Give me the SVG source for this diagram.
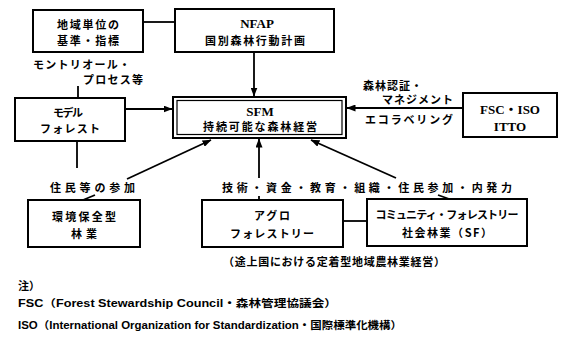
<svg xmlns="http://www.w3.org/2000/svg" width="562" height="337" viewBox="0 0 562 337">
<style>
.box{fill:#fff;stroke:#000;stroke-width:2}
.ln{fill:none;stroke:#000;stroke-width:1.8}
.jp{font-family:"Noto Sans CJK JP",sans-serif;font-weight:bold;font-size:11px;fill:#000}
.sr{font-family:"Liberation Serif","Noto Sans CJK JP",serif;font-weight:bold;font-size:13px;fill:#000}
.nt{font-family:"Liberation Sans","Noto Sans CJK JP",sans-serif;font-weight:bold;font-size:10.5px;fill:#000}
.c{text-anchor:middle}
</style>
<defs>
<marker id="ah" markerWidth="9" markerHeight="7" refX="8.5" refY="3.5" orient="auto" markerUnits="userSpaceOnUse">
<path d="M0,0 L9,3.5 L0,7 Z" fill="#000"/>
</marker>
</defs>
<rect width="562" height="337" fill="#fff"/>
<g id="connectors">
<line class="ln" x1="143" y1="22" x2="175" y2="22"/>
<line class="ln" x1="254" y1="52" x2="254" y2="96" marker-end="url(#ah)"/>
<line class="ln" x1="78" y1="86" x2="78" y2="98"/>
<line class="ln" x1="125" y1="109" x2="172" y2="109" marker-end="url(#ah)"/>
<line class="ln" x1="463" y1="108" x2="347" y2="108" marker-end="url(#ah)"/>
<line class="ln" x1="77" y1="141" x2="77" y2="168"/>
<line class="ln" x1="95" y1="195" x2="83" y2="200"/>
<line class="ln" x1="127" y1="179" x2="211" y2="140" marker-end="url(#ah)"/>
<line class="ln" x1="259" y1="196" x2="259" y2="200"/>
<line class="ln" x1="259" y1="178" x2="259" y2="139" marker-end="url(#ah)"/>
<line class="ln" x1="396" y1="178" x2="311" y2="140" marker-end="url(#ah)"/>
<line class="ln" x1="438" y1="195" x2="452" y2="200"/>
<line class="ln" x1="343" y1="221" x2="367" y2="221"/>
</g>
<g id="n-kijun">
<rect class="box" x="33" y="10" width="110" height="42"/>
<text class="jp c" x="88" y="29" textLength="62" lengthAdjust="spacing">地域単位の</text>
<text class="jp c" x="88" y="45" textLength="62" lengthAdjust="spacing">基準・指標</text>
</g>
<g id="n-nfap">
<rect class="box" x="175" y="9" width="159" height="43"/>
<text class="sr c" x="257" y="28">NFAP</text>
<text class="jp c" x="255" y="45" textLength="100" lengthAdjust="spacing">国別森林行動計画</text>
</g>
<g id="l-montreal">
<text class="jp" x="33" y="69" font-size="10" textLength="97" lengthAdjust="spacing">モントリオール・</text>
<text class="jp" x="83" y="84" font-size="10" textLength="60" lengthAdjust="spacing">プロセス等</text>
</g>
<g id="n-model">
<rect class="box" x="15" y="98" width="110" height="43"/>
<text class="jp c" x="68" y="117" font-size="10" textLength="30" lengthAdjust="spacing">モデル</text>
<text class="jp c" x="70" y="133" font-size="10" textLength="60" lengthAdjust="spacing">フォレスト</text>
</g>
<g id="n-sfm">
<rect class="box" x="173" y="97" width="173" height="41" stroke-width="2.2"/>
<rect x="177" y="100.5" width="165" height="34" fill="none" stroke="#000" stroke-width="1.2"/>
<text class="sr c" x="260" y="116">SFM</text>
<text class="jp c" x="260" y="131" textLength="114" lengthAdjust="spacing">持続可能な森林経営</text>
</g>
<g id="l-cert">
<text class="jp" x="363" y="90" font-size="10" textLength="59" lengthAdjust="spacing">森林認証・</text>
<text class="jp" x="382" y="104" font-size="10" textLength="71" lengthAdjust="spacing">マネジメント</text>
<text class="jp" x="365" y="124" font-size="10" textLength="88" lengthAdjust="spacing">エコラベリング</text>
</g>
<g id="n-fsc">
<rect class="box" x="463" y="93" width="94" height="44"/>
<text class="sr c" x="510" y="114">FSC・ISO</text>
<text class="sr c" x="510" y="131">ITTO</text>
</g>
<g id="l-jumin">
<text class="jp" x="50" y="192" textLength="85" lengthAdjust="spacing">住民等の参加</text>
</g>
<g id="n-kankyo">
<rect class="box" x="28" y="200" width="112" height="47"/>
<text class="jp c" x="84" y="221" textLength="64" lengthAdjust="spacing">環境保全型</text>
<text class="jp c" x="84" y="238" textLength="26" lengthAdjust="spacing">林業</text>
</g>
<g id="l-gijutsu">
<text class="jp" x="222" y="192" textLength="290" lengthAdjust="spacing">技術・資金・教育・組織・住民参加・内発力</text>
</g>
<g id="n-agro">
<rect class="box" x="202" y="200" width="141" height="47"/>
<text class="jp c" x="272" y="220" font-size="10" textLength="36" lengthAdjust="spacing">アグロ</text>
<text class="jp c" x="272" y="238" font-size="10" textLength="84" lengthAdjust="spacing">フォレストリー</text>
</g>
<g id="n-community">
<rect class="box" x="367" y="199" width="160" height="47"/>
<text class="jp c" x="447" y="219" font-size="10" textLength="143" lengthAdjust="spacing">コミュニティ・フォレストリー</text>
<text class="jp c" x="447" y="237" textLength="90" lengthAdjust="spacing">社会林業（SF）</text>
</g>
<g id="l-tojo">
<text class="jp c" x="334" y="266" textLength="222" lengthAdjust="spacing">（途上国における定着型地域農林業経営）</text>
</g>
<g id="notes">
<text class="jp" x="18" y="290" font-size="10.5">注）</text>
<text class="nt" x="18" y="307" textLength="319" lengthAdjust="spacingAndGlyphs">FSC（Forest Stewardship Council・森林管理協議会）</text>
<text class="nt" x="18" y="329" textLength="384" lengthAdjust="spacingAndGlyphs">ISO（International Organization for Standardization・国際標準化機構）</text>
</g>
</svg>
